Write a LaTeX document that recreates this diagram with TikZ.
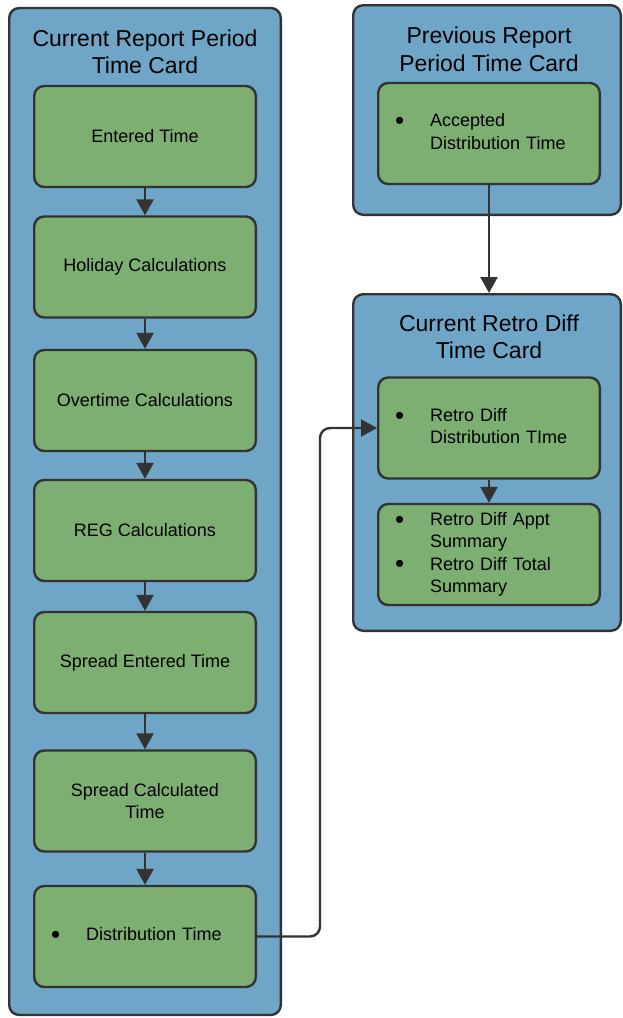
\documentclass[tikz,border=0pt]{standalone}
\usepackage{fontspec}
\setmainfont{Liberation Sans}
\usepackage{xcolor}
\usepackage{tikz}
\usetikzlibrary{calc,arrows.meta}
\definecolor{panelbg}{HTML}{6FA5C6}
\definecolor{cardbg}{HTML}{7DAF73}
\definecolor{edge}{HTML}{333333}
\newcommand{\cardfont}{\fontsize{18}{22.3}\selectfont}
\newcommand{\ttlfont}{\fontsize{23}{27.5}\selectfont}
\newcommand{\bul}{\raisebox{-2.8pt}{\fontsize{26}{22.3}\selectfont\textbullet}}
\tikzset{
  panel/.style={draw=edge, fill=panelbg, line width=2.4pt, rounded corners=10pt, inner sep=0pt},
  card/.style={draw=edge, fill=cardbg, line width=2.4pt, rounded corners=10pt, inner sep=0pt,
    minimum width=221.6pt, minimum height=101pt, font=\cardfont, align=center},
  cardlist/.style={card, align=left, inner xsep=17pt, text width=187.6pt},
  ttl/.style={inner sep=0pt, font=\ttlfont, align=center},
  link/.style={draw=edge, line width=2.4pt, -{Triangle[length=16pt,width=17pt]}},
}

\begin{document}
\begin{tikzpicture}[x=1pt,y=-1pt]
  \useasboundingbox (0,0) rectangle (623,1018);

  \node[panel, minimum width=271.6pt, minimum height=1007pt] (curPanel) at (145,511.5) {};
  \node[panel, minimum width=267.6pt, minimum height=209.6pt] (prevPanel) at (487,110) {};
  \node[panel, minimum width=267.6pt, minimum height=336.6pt] (retroPanel) at (487,462.5) {};

  \node[ttl] (curTtl) at (145,51.7) {Current Report Period\\Time Card};
  \node[ttl] (prevTtl) at (489,49.5) {Previous Report\\Period Time Card};
  \node[ttl] (retroTtl) at (489,336.7) {Current Retro Diff\\Time Card};

  \node[card] (entered) at (145,136.5) {Entered Time};
  \node[card] (holiday) at (145,267) {Holiday Calculations};
  \node[card] (overtime) at (145,400.5) {Overtime Calculations};
  \node[card] (reg) at (145,530.5) {REG Calculations};
  \node[card] (spreadEnt) at (145,662.5) {Spread Entered Time};
  \node[card] (spreadCalc) at (145,801) {Spread Calculated\\Time};
  \node[cardlist] (dist) at (145,936.5)
    {\begin{tabular}{@{}p{35pt}@{}l@{}}\bul & Distribution Time\end{tabular}};

  \node[cardlist] (accepted) at (489,133.5)
    {\begin{tabular}{@{}p{35pt}@{}l@{}}\bul & Accepted\\ & Distribution Time\end{tabular}};
  \node[cardlist] (retroDist) at (489,428)
    {\begin{tabular}{@{}p{35pt}@{}l@{}}\bul & Retro Diff\\ & Distribution TIme\end{tabular}};
  \node[cardlist] (retroSum) at (489,554.5)
    {\begin{tabular}{@{}p{35pt}@{}l@{}}\bul & Retro Diff Appt\\ & Summary\\
      \bul & Retro Diff Total\\ & Summary\end{tabular}};

  \foreach \a/\b in {entered/holiday, holiday/overtime, overtime/reg, reg/spreadEnt,
                     spreadEnt/spreadCalc, spreadCalc/dist, retroDist/retroSum}
    \draw[link] (\a) -- (\b);
  \draw[link] (accepted) -- (accepted |- retroPanel.north);
  \draw[link, rounded corners=10pt] (dist.east) -- ++(63,0) |- (retroDist.west);
\end{tikzpicture}
\end{document}
